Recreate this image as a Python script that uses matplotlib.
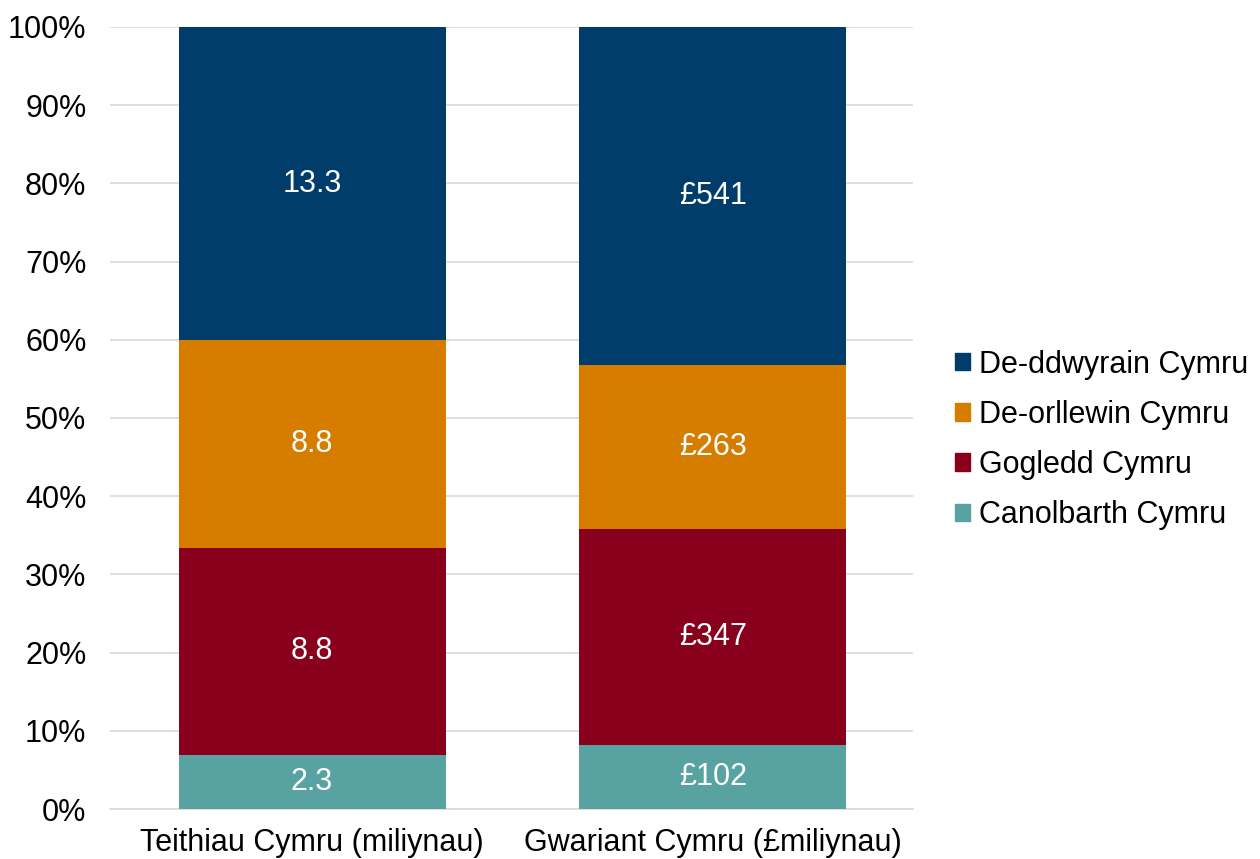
import matplotlib.pyplot as plt
from matplotlib.patches import Patch
import numpy as np

plt.rcParams['font.family'] = ['Liberation Sans', 'DejaVu Sans']

# Data
categories = ['Teithiau Cymru (miliynau)', 'Gwariant Cymru (£miliynau)']
regions = ['Canolbarth Cymru', 'Gogledd Cymru', 'De-orllewin Cymru', 'De-ddwyrain Cymru']
values_trips = [2.3, 8.8, 8.8, 13.3]
values_spend = [102, 347, 263, 541]
labels_trips = ['2.3', '8.8', '8.8', '13.3']
labels_spend = ['£102', '£347', '£263', '£541']
colors = ['#59A2A2', '#88001B', '#D67D00', '#003D6B']

fs = 22

fig = plt.figure(figsize=(12.6, 8.59), dpi=100)
ax = fig.add_axes([0.0873, 0.0582, 0.6373, 0.9104])

x = np.arange(len(categories))
series = [values_trips, values_spend]
text_labels = [labels_trips, labels_spend]
width = 0.666

for i, (vals, labs) in enumerate(zip(series, text_labels)):
    total = sum(vals)
    bottom = 0
    for v, lab, c in zip(vals, labs, colors):
        pct = v / total * 100
        ax.bar(x[i], pct, width, bottom=bottom, color=c, zorder=3)
        ax.text(x[i], bottom + pct / 2, lab, ha='center', va='center',
                color='white', fontsize=fs, zorder=4)
        bottom += pct

ax.set_xlim(-0.504, 1.499)
ax.set_ylim(0, 100)
ax.set_yticks(range(0, 101, 10))
ax.set_yticklabels([f'{t}%' for t in range(0, 101, 10)], fontsize=fs)
ax.set_xticks(x)
ax.set_xticklabels(categories, fontsize=fs)
ax.tick_params(axis='both', length=0)
ax.tick_params(axis='y', pad=17)
ax.tick_params(axis='x', pad=14)
ax.grid(axis='y', color='#D9D9D9', linewidth=1.2, zorder=0)
for s in ['left', 'right', 'top']:
    ax.spines[s].set_visible(False)
ax.spines['bottom'].set_color('#D9D9D9')
ax.spines['bottom'].set_linewidth(1.2)

handles = [Patch(color=c, label=r) for r, c in zip(regions, colors)]
fig.legend(handles=handles[::-1], loc='center left', bbox_to_anchor=(0.758, 0.488),
           frameon=False, fontsize=fs, handlelength=0.5, handleheight=0.5,
           handletextpad=0.27, labelspacing=0.66, borderpad=0, borderaxespad=0)

fig.savefig('out.png', dpi=100)
